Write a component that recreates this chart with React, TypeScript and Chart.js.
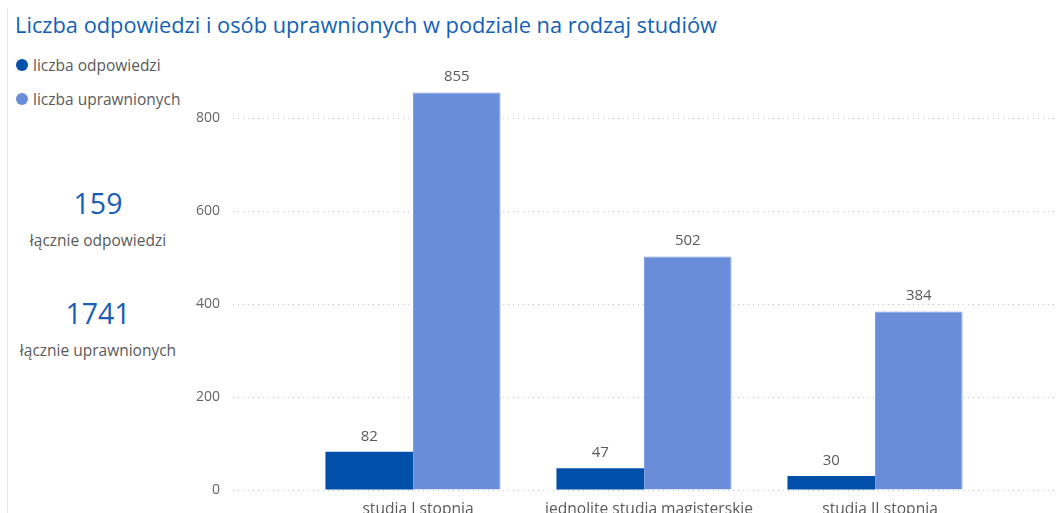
import React, { useEffect, useRef } from "react";
import { Chart, registerables } from "chart.js";

Chart.register(...registerables);

const categories = ["studia I stopnia", "jednolite studia magisterskie", "studia II stopnia"];
const responses = [82, 47, 30];
const eligible = [855, 502, 384];
const yTicks = [0, 200, 400, 600, 800];
const seriesNames = ["liczba odpowiedzi", "liczba uprawnionych"];
const totalResponses = 159;
const totalEligible = 1741;

const DARK = "#0050AA";
const LIGHT = "#698DD9";
const FONT = "'Open Sans', 'Noto Sans', sans-serif";
const TEXT_GRAY = "#5a5a5a";

const dotGrid = {
  id: "dotGrid",
  beforeDatasetsDraw(chart: any) {
    const ctx = chart.ctx;
    const y = chart.scales.y;
    ctx.save();
    ctx.strokeStyle = "#c4c4c4";
    ctx.lineWidth = 1;
    ctx.setLineDash([1, 4]);
    for (const t of y.ticks) {
      const py = Math.round(y.getPixelForValue(t.value)) + 0.5;
      ctx.beginPath();
      ctx.moveTo(53, py);
      ctx.lineTo(chart.width, py);
      ctx.stroke();
    }
    ctx.restore();
  },
};

const valueLabels = {
  id: "valueLabels",
  afterDatasetsDraw(chart: any) {
    const ctx = chart.ctx;
    ctx.save();
    ctx.font = `15px ${FONT}`;
    ctx.fillStyle = TEXT_GRAY;
    ctx.textAlign = "center";
    ctx.textBaseline = "bottom";
    chart.data.datasets.forEach((ds: any, i: number) => {
      const meta = chart.getDatasetMeta(i);
      meta.data.forEach((el: any, j: number) => {
        ctx.fillText(String(ds.data[j]), el.x, el.y - 8);
      });
    });
    ctx.restore();
  },
};

export default function App() {
  const ref = useRef<HTMLCanvasElement>(null);
  useEffect(() => {
    if (!ref.current) return;
    const chart = new Chart(ref.current, {
      type: "bar",
      data: {
        labels: categories,
        datasets: [
          { label: seriesNames[0], data: responses, backgroundColor: DARK, categoryPercentage: 0.758, barPercentage: 1 },
          { label: seriesNames[1], data: eligible, backgroundColor: LIGHT, borderColor: "#7d9de0", borderWidth: 1, categoryPercentage: 0.758, barPercentage: 1 },
        ],
      },
      options: {
        responsive: true,
        maintainAspectRatio: false,
        animation: false,
        layout: { padding: { top: 11.5, right: 65.5, left: 0, bottom: 0 } },
        plugins: { legend: { display: false }, tooltip: { enabled: false } },
        scales: {
          x: {
            grid: { display: false },
            border: { display: false },
            ticks: { color: TEXT_GRAY, font: { family: FONT, size: 15.6 }, padding: 2, labelOffset: 5, maxRotation: 0, autoSkip: false },
            afterFit: (s: any) => { s.height = 23; },
          },
          y: {
            min: 0,
            max: 900,
            grid: { display: true, drawOnChartArea: false, drawTicks: true, tickLength: 77.5, color: "rgba(0,0,0,0)" },
            border: { display: false },
            ticks: { color: "#666", font: { family: FONT, size: 14 }, padding: 0 },
            afterBuildTicks: (s: any) => { s.ticks = yTicks.map((v) => ({ value: v })); },
            afterFit: (s: any) => { s.width = 117.5; },
          },
        },
      },
      plugins: [dotGrid, valueLabels],
    });
    return () => chart.destroy();
  }, []);

  const legendItem = (color: string, text: string, top: number) => (
    <div style={{ position: "absolute", left: 16, top: top - 11, height: 22, display: "flex", alignItems: "center" }}>
      <span style={{ width: 12, height: 12, borderRadius: 6, background: color, display: "inline-block", marginRight: 5 }} />
      <span style={{ fontSize: 15.5, color: TEXT_GRAY }}>{text}</span>
    </div>
  );

  const kpi = (value: number, label: string, top: number) => (
    <div style={{ position: "absolute", left: 8, width: 180, top, textAlign: "center" }}>
      <div style={{ fontSize: 28.5, color: "#1a5db4", lineHeight: "36px" }}>{value}</div>
      <div style={{ fontSize: 15.5, color: TEXT_GRAY, lineHeight: "20px", marginTop: 9 }}>{label}</div>
    </div>
  );

  return (
    <div style={{ position: "fixed", left: 0, top: 0, width: 1056, height: 513, overflow: "hidden", background: "#fff", fontFamily: FONT }}>
      <div style={{ position: "absolute", left: 7, top: 8, width: 1, height: 505, background: "#dfe7f2" }} />
      <div style={{ position: "absolute", left: 15, top: 10, fontSize: 21.8, color: "#145fb6", whiteSpace: "nowrap", lineHeight: "30px" }}>
        Liczba odpowiedzi i osób uprawnionych w podziale na rodzaj studiów
      </div>
      {legendItem(DARK, seriesNames[0], 65)}
      {legendItem(LIGHT, seriesNames[1], 99)}
      {kpi(totalResponses, "łącznie odpowiedzi", 185)}
      {kpi(totalEligible, "łącznie uprawnionych", 295)}
      <div style={{ position: "absolute", left: 180, top: 60, width: 876, height: 453 }}>
        <canvas ref={ref} />
      </div>
    </div>
  );
}
